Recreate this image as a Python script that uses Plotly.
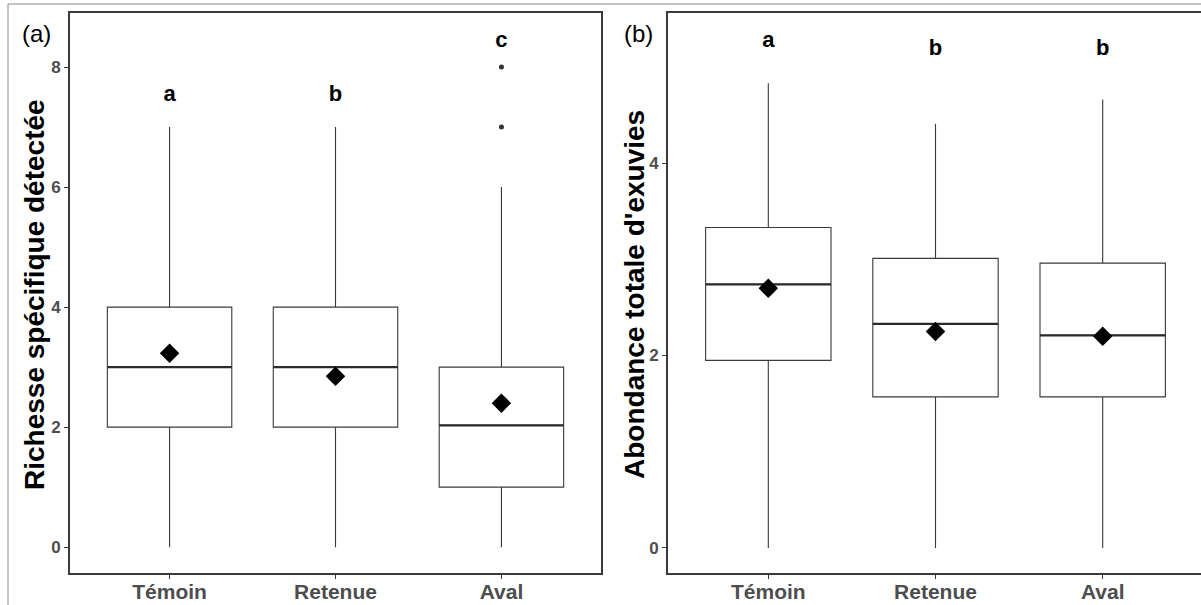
import plotly.graph_objects as go

categories = ["Témoin", "Retenue", "Aval"]

# Panel (a) : Richesse spécifique détectée
a_low = [0, 0, 0]
a_q1 = [2, 2, 1]
a_med = [3, 3, 2.03]
a_q3 = [4, 4, 3]
a_high = [7, 7, 6]
a_mean = [3.23, 2.85, 2.4]
a_out_x = [2, 2]
a_out_y = [7, 8]
a_letters = ["a", "b", "c"]
a_letter_y = [7.52, 7.52, 8.43]

# Panel (b) : Abondance totale d'exuvies
b_low = [0, 0, 0]
b_q1 = [1.95, 1.57, 1.57]
b_med = [2.74, 2.33, 2.21]
b_q3 = [3.33, 3.01, 2.96]
b_high = [4.83, 4.41, 4.66]
b_mean = [2.70, 2.25, 2.20]
b_letters = ["a", "b", "b"]
b_letter_y = [5.26, 5.18, 5.18]

BOXW = 0.75
W, H = 1201, 605
FONT = "Liberation Sans, Arial, sans-serif"
LINE = "#3a3a3a"
TICKC = "#4d4d4d"

fig = go.Figure()
xs = list(range(len(categories)))

def add_panel(xa, ya, low, q1, med, q3, high, mean, letters, ly, out_x=None, out_y=None):
    fig.add_trace(go.Box(
        x=xs, q1=q1, median=med, q3=q3, lowerfence=low, upperfence=high,
        width=BOXW, whiskerwidth=0, fillcolor="white",
        line=dict(color=LINE, width=1.1), boxpoints=False,
        xaxis=xa, yaxis=ya, showlegend=False, hoverinfo="skip"))
    # thicker median lines
    mx, my = [], []
    for i, m in enumerate(med):
        mx += [i - BOXW / 2, i + BOXW / 2, None]
        my += [m, m, None]
    fig.add_trace(go.Scatter(x=mx, y=my, mode="lines",
                             line=dict(color="#2b2b2b", width=2.3),
                             xaxis=xa, yaxis=ya, showlegend=False, hoverinfo="skip"))
    if out_x:
        fig.add_trace(go.Scatter(x=out_x, y=out_y, mode="markers",
                                 marker=dict(color="#333333", size=5),
                                 xaxis=xa, yaxis=ya, showlegend=False))
    fig.add_trace(go.Scatter(x=xs, y=mean, mode="markers",
                             marker=dict(symbol="diamond", color="black", size=15),
                             xaxis=xa, yaxis=ya, showlegend=False))
    fig.add_trace(go.Scatter(x=xs, y=ly, mode="text", text=letters,
                             textfont=dict(family=FONT, size=22, color="black", weight="bold"),
                             textposition="middle center",
                             xaxis=xa, yaxis=ya, showlegend=False))

add_panel("x", "y", a_low, a_q1, a_med, a_q3, a_high, a_mean, a_letters, a_letter_y, a_out_x, a_out_y)
add_panel("x2", "y2", b_low, b_q1, b_med, b_q3, b_high, b_mean, b_letters, b_letter_y)

xcommon = dict(tickmode="array", tickvals=xs, ticktext=categories, automargin=False,
               showline=True, mirror=True, linecolor=LINE, linewidth=1.8,
               ticks="outside", ticklen=4, tickcolor=LINE, showgrid=False, zeroline=False,
               ticklabelstandoff=-5,
               tickfont=dict(family=FONT, size=21, color=TICKC, weight="bold"))
ycommon = dict(showline=True, linecolor=LINE, linewidth=1.8, automargin=False,
               ticks="outside", ticklen=4, tickcolor=LINE, showgrid=False, zeroline=False,
               tickfont=dict(family=FONT, size=17, color=TICKC, weight="bold"))

ybot = (H - 573) / H
ytop = (H - 13) / H
TITLE_FONT = dict(family=FONT, size=28, color="black", weight="bold")

fig.update_layout(
    width=W, height=H, margin=dict(l=0, r=0, t=0, b=0, autoexpand=False),
    paper_bgcolor="white", plot_bgcolor="white",
    xaxis=dict(domain=[70 / W, 601 / W], range=[-0.6, 2.6], anchor="y", **xcommon),
    yaxis=dict(domain=[ybot, ytop], range=[-0.43, 8.9], anchor="x", mirror=True,
               tickvals=[0, 2, 4, 6, 8], **ycommon),
    xaxis2=dict(domain=[668 / W, 1.0], range=[-0.6, 2.588], anchor="y2", **xcommon),
    yaxis2=dict(domain=[ybot, ytop], range=[-0.26, 5.56], anchor="x2", mirror=False,
                tickvals=[0, 2, 4], **ycommon),
    annotations=[
        dict(text="Richesse spécifique détectée", xref="paper", yref="paper",
             x=34 / W, y=(H - 295) / H, textangle=-90, showarrow=False,
             xanchor="center", yanchor="middle", font=TITLE_FONT),
        dict(text="Abondance totale d'exuvies", xref="paper", yref="paper",
             x=634 / W, y=(H - 295) / H, textangle=-90, showarrow=False,
             xanchor="center", yanchor="middle", font=TITLE_FONT),
        dict(text="(a)", xref="paper", yref="paper", x=36 / W, y=(H - 33) / H,
             showarrow=False, xanchor="center", yanchor="middle",
             font=dict(family=FONT, size=24, color="black")),
        dict(text="(b)", xref="paper", yref="paper", x=638 / W, y=(H - 33) / H,
             showarrow=False, xanchor="center", yanchor="middle",
             font=dict(family=FONT, size=24, color="black")),
    ],
    shapes=[
        dict(type="line", xref="paper", yref="paper", x0=8 / W, x1=1, y0=(H - 4) / H, y1=(H - 4) / H,
             line=dict(color="#8a8a8a", width=1)),
        dict(type="line", xref="paper", yref="paper", x0=8 / W, x1=8 / W, y0=0, y1=(H - 4) / H,
             line=dict(color="#8a8a8a", width=1)),
    ],
)

fig.write_html("out.html")
